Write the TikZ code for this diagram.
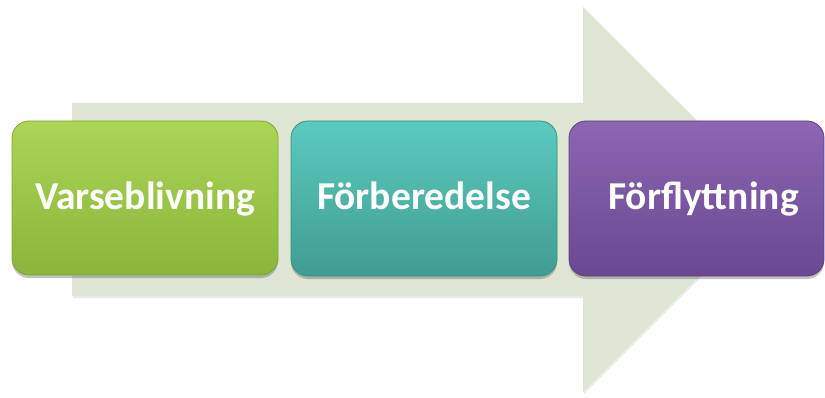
\documentclass[tikz,border=0pt]{standalone}
\usepackage{fontspec}
\setmainfont{Carlito}
\usetikzlibrary{shadows,calc}
\definecolor{arrowfill}{HTML}{DDE6D3}
\definecolor{gtop}{HTML}{ACD556}
\definecolor{gbot}{HTML}{8AB53B}
\definecolor{gline}{HTML}{7FA535}
\definecolor{ttop}{HTML}{5BCABD}
\definecolor{tbot}{HTML}{419C92}
\definecolor{tline}{HTML}{3A8F86}
\definecolor{ptop}{HTML}{8B66B3}
\definecolor{pbot}{HTML}{6A4891}
\definecolor{pline}{HTML}{5E3F82}
\tikzset{
  x=1pt, y=1pt,
  stage/.style={rounded corners=17pt, line width=0.8pt,
    drop shadow={shadow xshift=0pt, shadow yshift=-3pt, opacity=0.4, fill=black!60}},
  label/.style={text=white, font=\bfseries\fontsize{39.5}{44}\selectfont, anchor=base, inner sep=0pt}
}
\begin{document}
\begin{tikzpicture}
\useasboundingbox (0,0) rectangle (825,397);
% background arrow
\fill[arrowfill, drop shadow={shadow xshift=1pt, shadow yshift=-2pt, opacity=0.15}]
  (72,294) -- (583,294) -- (583,390) -- (776,197.5) -- (583,5) -- (583,101) -- (72,101) -- cycle;
% stage boxes
\draw[stage, draw=gline, top color=gtop, bottom color=gbot] (12,122) rectangle (278,276);
\draw[stage, draw=tline, top color=ttop, bottom color=tbot] (291,121) rectangle (557,276);
\draw[stage, draw=pline, top color=ptop, bottom color=pbot] (569,121) rectangle (824,276);
\node[label] (a) at (145,187) {Varseblivning};
\node[label] (b) at (424,187) {Förberedelse};
\node[label] (c) at (703.5,187) {Förflyttning};
\end{tikzpicture}
\end{document}
